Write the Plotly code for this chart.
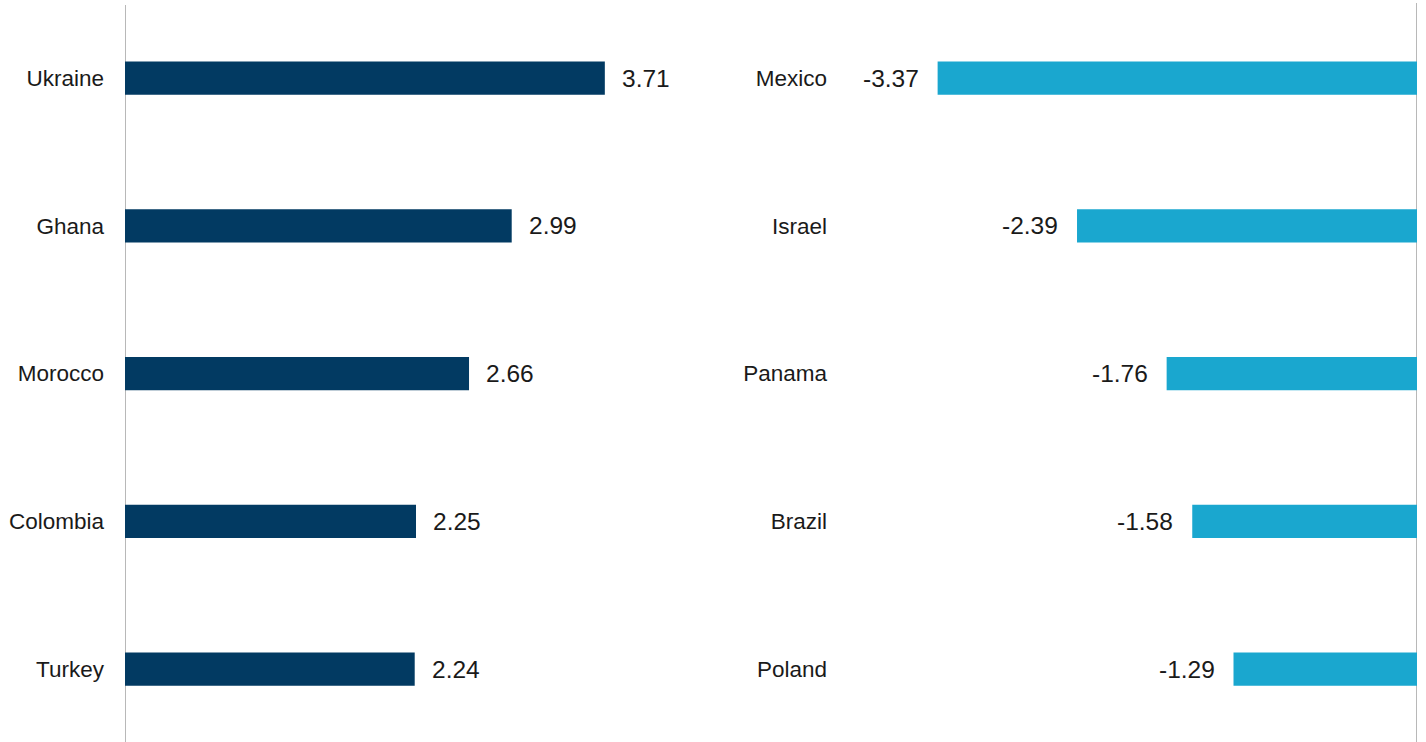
import plotly.graph_objects as go
from plotly.subplots import make_subplots

left_countries = ["Ukraine", "Ghana", "Morocco", "Colombia", "Turkey"]
left_values = [3.71, 2.99, 2.66, 2.25, 2.24]
right_countries = ["Mexico", "Israel", "Panama", "Brazil", "Poland"]
right_values = [-3.37, -2.39, -1.76, -1.58, -1.29]

DARK = "#023a62"
LIGHT = "#1aa7cf"
LINE = "#b8b8b8"
FONT = "Liberation Sans, Arial, sans-serif"
W, H = 1426, 742

fig = make_subplots(rows=1, cols=2)
fig.add_trace(go.Bar(x=left_values, y=left_countries, orientation="h",
                     marker=dict(color=DARK, line=dict(width=0)), width=0.225,
                     hoverinfo="skip"), row=1, col=1)
fig.add_trace(go.Bar(x=right_values, y=right_countries, orientation="h",
                     marker=dict(color=LIGHT, line=dict(width=0)), width=0.225,
                     hoverinfo="skip"), row=1, col=2)

yr = [4.494, -0.528]
fig.update_layout(
    width=W, height=H, margin=dict(l=0, r=0, t=0, b=0),
    paper_bgcolor="white", plot_bgcolor="white", showlegend=False,
    font=dict(family=FONT, size=22, color="#1a1a1a"),
    xaxis=dict(domain=[125 / W, 707 / W], range=[0, 4.5], visible=False),
    xaxis2=dict(domain=[848 / W, 1417 / W], range=[-4.0, 0], visible=False),
    yaxis=dict(range=yr, showgrid=False, zeroline=False, showline=False,
               ticks="", ticklabelstandoff=20, tickfont=dict(size=22.5)),
    yaxis2=dict(range=yr, showgrid=False, zeroline=False, showline=False,
                ticks="", ticklabelstandoff=20, tickfont=dict(size=22.5)),
)

for c, v in zip(left_countries, left_values):
    fig.add_annotation(x=v, y=c, xref="x", yref="y", text=f"{v:.2f}",
                       showarrow=False, xanchor="left", xshift=15,
                       font=dict(size=24.5, family=FONT, color="#1a1a1a"))
for c, v in zip(right_countries, right_values):
    fig.add_annotation(x=v, y=c, xref="x2", yref="y2", text=f"{v:.2f}",
                       showarrow=False, xanchor="right", xshift=-17,
                       font=dict(size=24.5, family=FONT, color="#1a1a1a"))

fig.add_shape(type="line", xref="x", yref="paper", x0=0, x1=0,
              y0=0, y1=1 - 5 / H, line=dict(color=LINE, width=2), layer="below")
fig.add_shape(type="line", xref="x2", yref="paper", x0=0, x1=0,
              y0=0, y1=1 - 3 / H, line=dict(color=LINE, width=2), layer="below")

fig.write_html("out.html")
